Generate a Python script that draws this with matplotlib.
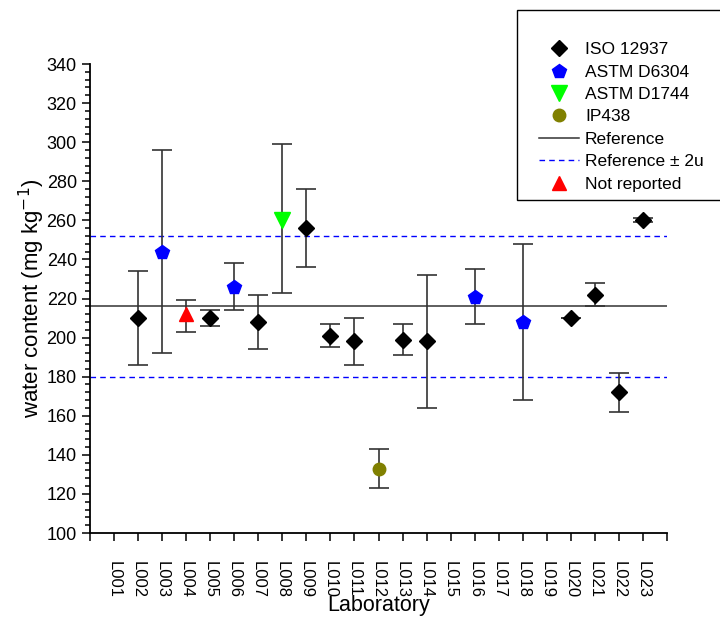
import matplotlib.pyplot as plt
from matplotlib.patches import Rectangle
from matplotlib.ticker import MultipleLocator

plt.rcParams['font.family'] = ['Liberation Sans', 'DejaVu Sans']

labs = ['L%03d' % i for i in range(1, 24)]

# ISO 12937 results: lab index, value, lower, upper
iso_lab = [2, 5, 7, 9, 10, 11, 13, 14, 20, 21, 22, 23]
iso_val = [210, 210, 208, 256, 201, 198, 199, 198, 210, 222, 172, 260]
iso_lo = [186, 206, 194, 236, 195, 186, 191, 164, 210, 216, 162, 259]
iso_hi = [234, 214, 222, 276, 207, 210, 207, 232, 210, 228, 182, 261]

d6304_lab = [3, 6, 16, 18]
d6304_val = [244, 226, 221, 208]
d6304_lo = [192, 214, 207, 168]
d6304_hi = [296, 238, 235, 248]

d1744_lab = [8]
d1744_val = [260]
d1744_lo = [223]
d1744_hi = [299]

ip438_lab = [12]
ip438_val = [133]
ip438_lo = [123]
ip438_hi = [143]

nr_lab = [4]
nr_val = [212]
nr_lo = [203]
nr_hi = [219]

ref = 216
ref_lo = 180
ref_hi = 252

fig = plt.figure(figsize=(7.2, 6.17), dpi=100)
ax = fig.add_axes([90/720, 1-533/617, 577/720, 469/617])


def plot_group(x, v, lo, hi, marker, color, ms, label):
    err = [[a - b for a, b in zip(v, lo)], [b - a for a, b in zip(v, hi)]]
    ax.errorbar(x, v, yerr=err, fmt='none', ecolor='#333333', elinewidth=1.2,
                capsize=7, capthick=1.2, zorder=2)
    ax.plot(x, v, linestyle='none', marker=marker, color=color, ms=ms,
            label=label, zorder=3)


ax.axhline(ref, color='#333333', lw=1.1, zorder=1)
ax.axhline(ref_lo, color='#0000ff', lw=1, ls=(0, (4, 3)), zorder=1)
ax.axhline(ref_hi, color='#0000ff', lw=1, ls=(0, (4, 3)), zorder=1)

plot_group(iso_lab, iso_val, iso_lo, iso_hi, 'D', 'black', 8, 'ISO 12937')
plot_group(d6304_lab, d6304_val, d6304_lo, d6304_hi, 'p', '#0000ff', 10, 'ASTM D6304')
plot_group(d1744_lab, d1744_val, d1744_lo, d1744_hi, 'v', '#00ff00', 11, 'ASTM D1744')
plot_group(ip438_lab, ip438_val, ip438_lo, ip438_hi, 'o', '#808000', 9, 'IP438')
plot_group(nr_lab, nr_val, nr_lo, nr_hi, '^', '#ff0000', 10, 'Not reported')

ax.set_xlim(0, 24)
ax.set_ylim(100, 340)
ax.set_xticks(range(0, 25))
ax.set_xticklabels([''] + labs + [''], rotation=-90, fontsize=12)
ax.yaxis.set_major_locator(MultipleLocator(20))
ax.yaxis.set_minor_locator(MultipleLocator(4))
ax.tick_params(axis='y', which='major', direction='out', length=6, width=1.1, labelsize=13)
ax.tick_params(axis='y', which='minor', direction='out', length=3.5, width=1.1)
ax.tick_params(axis='x', which='major', direction='out', length=6, width=1.1, pad=14)
for s in ['top', 'right']:
    ax.spines[s].set_visible(False)
for s in ['left', 'bottom']:
    ax.spines[s].set_linewidth(1.3)

ax.set_xlabel('Laboratory', fontsize=15.5, labelpad=-2)
ax.set_ylabel('water content (mg kg$^{-1}$)', fontsize=16, labelpad=0)

# legend frame drawn separately: it runs off the right edge of the figure
fig.add_artist(Rectangle((517/720, 1-200/617), 230/720, 190/617, transform=fig.transFigure,
                         facecolor='white', edgecolor='black', lw=1.0, zorder=5))

h, l = ax.get_legend_handles_labels()
line_ref = plt.Line2D([], [], color='#333333', lw=1.1)
line_u = plt.Line2D([], [], color='#0000ff', lw=1, ls=(0, (4, 3)))
order = [h[0], h[1], h[2], h[3], line_ref, line_u, h[4]]
names = [l[0], l[1], l[2], l[3], 'Reference', 'Reference \u00b1 2u', l[4]]
leg = fig.legend(order, names, loc='upper left', bbox_to_anchor=(539/720, 1-42/617),
                 fontsize=12.5, frameon=False, borderpad=0, labelspacing=0.42,
                 handlelength=2.3, handletextpad=0.35, borderaxespad=0)
leg.set_zorder(6)

fig.savefig('out.png', dpi=100)
